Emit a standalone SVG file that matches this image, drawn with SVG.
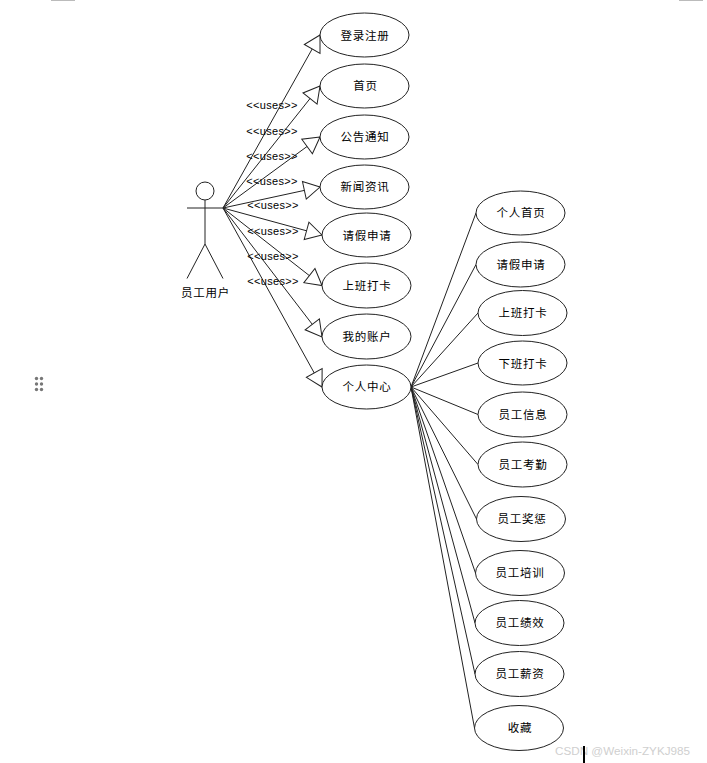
<svg xmlns="http://www.w3.org/2000/svg" width="707" height="763" viewBox="0 0 707 763">
<style>
text{fill:#000;font-family:"Noto Sans CJK SC","Liberation Sans",sans-serif;font-size:11.5px;text-anchor:middle;letter-spacing:.8px}
.u{font-family:"Liberation Sans",sans-serif;font-size:11px;letter-spacing:.3px}
.e{fill:#fff;stroke:#222;stroke-width:1}
.l{stroke:#222;stroke-width:1;fill:none}
.a{marker-end:url(#tri)}
.d{fill:#777}
.b{fill:#bbb}
.w{fill:#cfcfcf;font-family:"Liberation Sans",sans-serif;font-size:11.7px;letter-spacing:0;text-anchor:start}
</style>
<defs>
<marker id="tri" markerUnits="userSpaceOnUse" markerWidth="20" markerHeight="22" refX="17" refY="10" orient="auto" overflow="visible">
<path d="M17,10 L1,1 L1,19 Z" fill="#fff" stroke="#222" stroke-width="1"/>
</marker>
</defs>
<rect class="b" x="51" y="0" width="24" height="1"/>
<rect class="b" x="679" y="0" width="24" height="1"/>
<g id="handle">
<circle class="d" cx="36.500" cy="378.500" r="1.700"/><circle class="d" cx="41.500" cy="378.500" r="1.700"/>
<circle class="d" cx="36.500" cy="384" r="1.700"/><circle class="d" cx="41.500" cy="384" r="1.700"/>
<circle class="d" cx="36.500" cy="389.500" r="1.700"/><circle class="d" cx="41.500" cy="389.500" r="1.700"/>
</g>
<g id="connectors">
<line class="l a" x1="223" y1="208" x2="320" y2="35"/>
<line class="l a" x1="223" y1="208" x2="320" y2="86"/>
<line class="l a" x1="223" y1="208" x2="320" y2="137"/>
<line class="l a" x1="223" y1="208" x2="320" y2="187"/>
<line class="l a" x1="223" y1="208" x2="322" y2="235"/>
<line class="l a" x1="223" y1="208" x2="322" y2="285.5"/>
<line class="l a" x1="223" y1="208" x2="322" y2="337"/>
<line class="l a" x1="223" y1="208" x2="322" y2="387"/>
<line class="l" x1="411" y1="387" x2="476" y2="213"/>
<line class="l" x1="411" y1="387" x2="476" y2="264.5"/>
<line class="l" x1="411" y1="387" x2="478" y2="313"/>
<line class="l" x1="411" y1="387" x2="478" y2="363"/>
<line class="l" x1="411" y1="387" x2="478" y2="414.5"/>
<line class="l" x1="411" y1="387" x2="478" y2="464.5"/>
<line class="l" x1="411" y1="387" x2="476.500" y2="519"/>
<line class="l" x1="411" y1="387" x2="475.500" y2="573"/>
<line class="l" x1="411" y1="387" x2="475" y2="623"/>
<line class="l" x1="411" y1="387" x2="475" y2="674"/>
<line class="l" x1="411" y1="387" x2="474.500" y2="728"/>
<text class="u" x="272" y="109">&lt;&lt;uses&gt;&gt;</text>
<text class="u" x="272" y="135">&lt;&lt;uses&gt;&gt;</text>
<text class="u" x="272" y="160">&lt;&lt;uses&gt;&gt;</text>
<text class="u" x="272" y="185">&lt;&lt;uses&gt;&gt;</text>
<text class="u" x="273" y="209">&lt;&lt;uses&gt;&gt;</text>
<text class="u" x="273" y="235">&lt;&lt;uses&gt;&gt;</text>
<text class="u" x="273" y="260">&lt;&lt;uses&gt;&gt;</text>
<text class="u" x="273" y="285">&lt;&lt;uses&gt;&gt;</text>
</g>
<g id="actor">
<circle class="l" cx="205" cy="191" r="9"/>
<path class="l" d="M205,200V244M187,208H223M187,278.500L205,244L223,278.500"/>
<text x="205.500" y="297">员工用户</text>
</g>
<g id="n1"><ellipse class="e" cx="364.500" cy="35" rx="44.500" ry="22"/><text x="365" y="40">登录注册</text></g>
<g id="n2"><ellipse class="e" cx="364.500" cy="86" rx="44.500" ry="22"/><text x="365.500" y="90">首页</text></g>
<g id="n3"><ellipse class="e" cx="364.500" cy="137" rx="44.500" ry="22"/><text x="365" y="141">公告通知</text></g>
<g id="n4"><ellipse class="e" cx="364.500" cy="187" rx="44.500" ry="22"/><text x="365" y="191">新闻资讯</text></g>
<g id="n5"><ellipse class="e" cx="366.500" cy="235" rx="44.500" ry="22"/><text x="367" y="240">请假申请</text></g>
<g id="n6"><ellipse class="e" cx="366.500" cy="285.500" rx="44.500" ry="22.500"/><text x="367" y="290">上班打卡</text></g>
<g id="n7"><ellipse class="e" cx="366.500" cy="336.500" rx="44.500" ry="22.500"/><text x="367" y="341">我的账户</text></g>
<g id="n8"><ellipse class="e" cx="366.500" cy="387" rx="44.500" ry="22"/><text x="367" y="391">个人中心</text></g>
<g id="r1"><ellipse class="e" cx="520.500" cy="213" rx="44.500" ry="22"/><text x="521" y="217">个人首页</text></g>
<g id="r2"><ellipse class="e" cx="520.500" cy="264.500" rx="44.500" ry="22.500"/><text x="521" y="269">请假申请</text></g>
<g id="r3"><ellipse class="e" cx="522.500" cy="313" rx="44.500" ry="22.500"/><text x="523" y="317">上班打卡</text></g>
<g id="r4"><ellipse class="e" cx="522.500" cy="363" rx="44.500" ry="22"/><text x="523" y="368">下班打卡</text></g>
<g id="r5"><ellipse class="e" cx="522.500" cy="414.500" rx="44.500" ry="22.500"/><text x="523" y="419">员工信息</text></g>
<g id="r6"><ellipse class="e" cx="522.500" cy="464.500" rx="44.500" ry="22.500"/><text x="523" y="469">员工考勤</text></g>
<g id="r7"><ellipse class="e" cx="521" cy="519" rx="44.500" ry="22.500"/><text x="522" y="523">员工奖惩</text></g>
<g id="r8"><ellipse class="e" cx="520" cy="573" rx="44.500" ry="22.500"/><text x="520" y="577">员工培训</text></g>
<g id="r9"><ellipse class="e" cx="519.500" cy="623" rx="44.500" ry="22.500"/><text x="520" y="627">员工绩效</text></g>
<g id="r10"><ellipse class="e" cx="519.500" cy="674" rx="44.500" ry="22.500"/><text x="520" y="678">员工薪资</text></g>
<g id="r11"><ellipse class="e" cx="519" cy="728" rx="44.500" ry="22.500"/><text x="520" y="732">收藏</text></g>
<text class="w" x="555" y="755">CSDN @Weixin-ZYKJ985</text>
<rect x="583" y="746" width="2" height="17" fill="#000"/>
</svg>
